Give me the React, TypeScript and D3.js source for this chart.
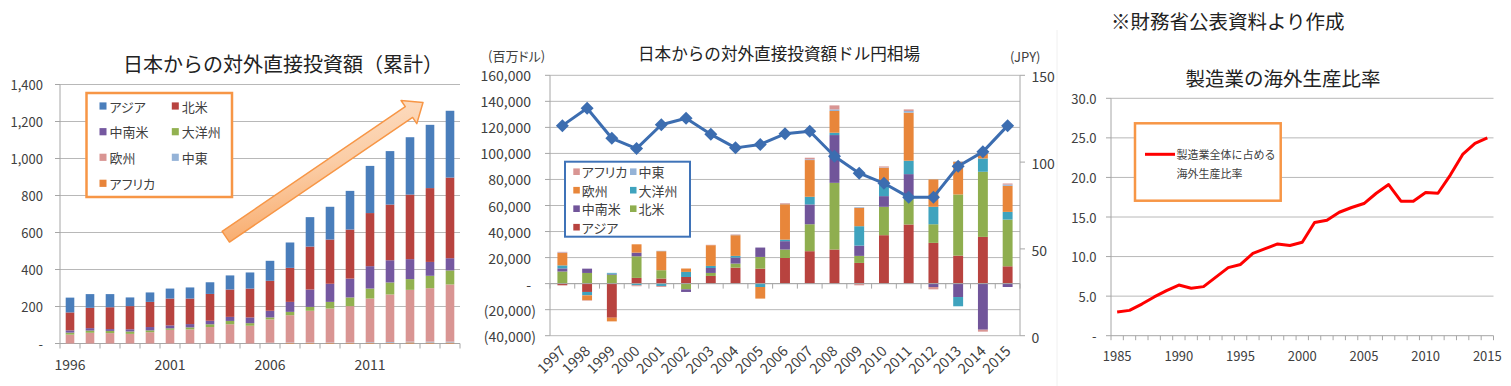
import React from 'react';
import * as d3 from 'd3';

const FONT = '"Noto Sans CJK JP", "Noto Sans", sans-serif';
const INK = '#404040';
const GRID = '#b8b8b8';
const AXIS = '#a6a6a6';

// 左: 日本からの対外直接投資額（累計）
const stockYears = ['1996', '1997', '1998', '1999', '2000', '2001', '2002', '2003', '2004', '2005',
  '2006', '2007', '2008', '2009', '2010', '2011', '2012', '2013', '2014', '2015'];
const stockAfrica = [0, 0, 0, 0, 0, 0, 0, 0, 0, 0, 1, 3, 3, 3, 3, 4, 4, 6, 5, 5];
const stockMideast = [0, 0, 0, 0, 0, 0, 0, 0, 0, 0, 3, 2, 2, 2, 2, 3, 4, 4, 5, 5];
const stockEurope = [48, 58, 56, 52, 61, 74, 76, 89, 104, 96, 126, 148, 172, 184, 197, 236, 257, 280, 289, 309];
const stockOceania = [11, 12, 12, 13, 10, 8, 11, 15, 18, 14, 11, 18, 21, 36, 47, 54, 65, 58, 67, 76];
const stockLatam = [12, 13, 10, 12, 18, 16, 18, 19, 22, 31, 36, 54, 94, 98, 102, 121, 120, 108, 75, 66];
const stockNorthAm = [97, 110, 118, 125, 136, 145, 138, 145, 148, 156, 162, 184, 232, 239, 265, 287, 301, 349, 399, 436];
const stockAsia = [80, 74, 71, 47, 51, 54, 60, 63, 76, 87, 108, 137, 159, 177, 209, 255, 289, 310, 342, 361];
const stockTicks = [0, 200, 400, 600, 800, 1000, 1200, 1400];
const stockYearLabels = ['1996', '2001', '2006', '2011'];

// 中: 日本からの対外直接投資額ドル円相場 (百万ドル / JPY)
const flowYears = ['1997', '1998', '1999', '2000', '2001', '2002', '2003', '2004', '2005', '2006',
  '2007', '2008', '2009', '2010', '2011', '2012', '2013', '2014', '2015'];
const flowAsia = [-1300, -6400, -26200, 4400, 3900, 5100, 5900, 12300, 11500, 19700, 24900, 26200, 15900, 37200, 45400, 31300, 21500, 35900, 13300];
const flowNorthAm = [9300, 8200, 6700, 16600, 6400, -4400, 2300, 3100, 9000, 6500, 20700, 51200, 5400, 21800, 20000, 14300, 47000, 50000, 35900];
const flowLatam = [2400, 3300, 500, 2800, 0, -2000, 3800, 4600, 7200, 6400, 15200, 36700, 7900, 8200, 18700, -2600, -10300, -35400, -2600];
const flowOceania = [2300, -2600, 800, -1300, -1800, 3900, 1600, 1300, -2600, 1200, 5900, 1800, 14900, 9000, 10300, 13400, -7100, 10200, 5900];
const flowEurope = [9500, -3800, -2800, 6400, 14600, 2600, 15900, 15900, -8900, 27200, 28200, 16700, 14100, 12800, 36900, 21000, 25100, 3900, 20000];
const flowMideast = [400, 0, 300, 0, 300, 0, 0, 300, 0, 300, 600, 1200, 500, 300, 1300, 0, 300, 300, 1000];
const flowAfrica = [500, -300, 0, -700, -700, 0, 300, 300, 0, 500, 1200, 3100, -1300, 700, 1200, -1800, 0, -1500, 800];
const usdJpy = [121, 131, 113.7, 107.8, 121.5, 125.3, 116, 108.2, 110.2, 116.3, 117.8, 103.4, 93.6, 87.8, 79.8, 79.8, 97.6, 105.9, 121];
const flowTicks = [-40000, -20000, 0, 20000, 40000, 60000, 80000, 100000, 120000, 140000, 160000];
const yenTicks = [0, 50, 100, 150];

// 右: 製造業の海外生産比率
const ratioYears = ['1985', '1986', '1987', '1988', '1989', '1990', '1991', '1992', '1993', '1994', '1995',
  '1996', '1997', '1998', '1999', '2000', '2001', '2002', '2003', '2004', '2005',
  '2006', '2007', '2008', '2009', '2010', '2011', '2012', '2013', '2014', '2015'];
const overseasRatio = [3.0, 3.2, 4.0, 4.9, 5.7, 6.4, 6.0, 6.2, 7.4, 8.6, 9.0, 10.4, 11.0, 11.6, 11.4, 11.8,
  14.3, 14.6, 15.6, 16.2, 16.7, 18.0, 19.1, 17.0, 17.0, 18.1, 18.0, 20.3, 22.9, 24.3, 25.0];
const ratioTicks = [0, 5, 10, 15, 20, 25, 30];
const ratioYearLabels = ['1985', '1990', '1995', '2000', '2005', '2010', '2015'];

const stockColors: Record<string, string> = {
  'アジア': '#4a7ebb', '北米': '#b8433f', '中南米': '#7558a0', '大洋州': '#92b150',
  '欧州': '#d99593', '中東': '#95b3d7', 'アフリカ': '#e8843a',
};
const flowColors: Record<string, string> = {
  'アジア': '#b8433f', '北米': '#8fae4f', '中南米': '#71559a', '大洋州': '#3fa3be',
  '欧州': '#e8863a', '中東': '#95b3d7', 'アフリカ': '#d99593',
};

const bandEdges = (x: d3.ScaleBand<string>, domain: string[]) => {
  const half = x.step() / 2;
  const c = domain.map(d => (x(d) as number) + x.bandwidth() / 2);
  return [c[0] - half, ...c.map(v => v + half)];
};

function StockChart() {
  const x = d3.scaleBand<string>().domain(stockYears).range([60, 460]).paddingInner(0.57).paddingOuter(0.285);
  const y = d3.scaleLinear().domain([0, 1400]).range([343.5, 84.5]);
  const rows = stockYears.map((yr, i) => ({
    year: yr, 'アフリカ': stockAfrica[i], '中東': stockMideast[i], '欧州': stockEurope[i],
    '大洋州': stockOceania[i], '中南米': stockLatam[i], '北米': stockNorthAm[i], 'アジア': stockAsia[i],
  }));
  const keys = ['アフリカ', '中東', '欧州', '大洋州', '中南米', '北米', 'アジア'];
  const series = d3.stack<any>().keys(keys).offset(d3.stackOffsetDiverging)(rows);
  const edges = bandEdges(x, stockYears);
  const fmt = (v: number) => (v === 0 ? '-' : d3.format(',')(v));

  // arrow geometry
  const T = [225.8, 236.7], P = [423, 102.5];
  const len = Math.hypot(P[0] - T[0], P[1] - T[1]);
  const u = [(P[0] - T[0]) / len, (P[1] - T[1]) / len];
  const n = [-u[1], u[0]];
  const hw = 6.5, hh = 14, hl = 17;
  const pt = (b: number[], a: number, k: number) => [b[0] + u[0] * a + n[0] * k, b[1] + u[1] * a + n[1] * k];
  const arrow = [pt(T, 0, hw), pt(P, -hl, hw), pt(P, -hl, hh), P, pt(P, -hl, -hh), pt(P, -hl, -hw), pt(T, 0, -hw)];

  const legend = [['アジア', '北米'], ['中南米', '大洋州'], ['欧州', '中東'], ['アフリカ']];
  const legendRows = [106, 131.7, 157.3, 183.3];
  const legendCols = [99.5, 171.8];

  return (
    <g>
      <text x={283} y={63} textAnchor="middle" dominantBaseline="central" fontSize={20} fill="#222">
        日本からの対外直接投資額（累計）
      </text>
      {stockTicks.map(t => (
        <g key={t}>
          <line x1={60} x2={460} y1={y(t)} y2={y(t)} stroke={t === 0 ? AXIS : GRID} />
          <line x1={55} x2={60} y1={y(t)} y2={y(t)} stroke={AXIS} />
          <text x={43} y={y(t)} textAnchor="end" dominantBaseline="central" fontSize={13} fill={INK}>{fmt(t)}</text>
        </g>
      ))}
      <line x1={60} x2={60} y1={y(1400)} y2={y(0)} stroke={AXIS} />
      {edges.map((e, i) => <line key={i} x1={e} x2={e} y1={y(0)} y2={y(0) + 5} stroke={AXIS} />)}
      {stockYearLabels.map(l => (
        <text key={l} x={(x(l) as number) + x.bandwidth() / 2} y={364} textAnchor="middle" dominantBaseline="central" fontSize={14} fill={INK}>{l}</text>
      ))}
      {series.map(s => (
        <g key={s.key} fill={stockColors[s.key]}>
          {s.map((d, i) => (
            <rect key={i} x={x(stockYears[i])} width={x.bandwidth()} y={y(Math.max(d[0], d[1]))} height={Math.abs(y(d[0]) - y(d[1]))} />
          ))}
        </g>
      ))}
      <defs>
        <linearGradient id="arrowFill" x1="0" y1="0" x2="0.3" y2="1">
          <stop offset="0" stopColor="#fde6d2" />
          <stop offset="0.55" stopColor="#fbcda6" />
          <stop offset="1" stopColor="#f8a866" />
        </linearGradient>
      </defs>
      <path d={d3.line()(arrow as [number, number][]) + 'Z'} fill="url(#arrowFill)" stroke="#f79646" strokeWidth={1.5} strokeLinejoin="round" />
      <rect x={86.5} y={93} width={145.5} height={104} fill="#fff" stroke="#f79646" strokeWidth={2.5} />
      {legend.map((row, r) => row.map((k, c) => (
        <g key={k}>
          <rect x={legendCols[c]} y={legendRows[r] - 3.6} width={7} height={7.2} fill={stockColors[k]} />
          <text x={legendCols[c] + 10} y={legendRows[r]} dominantBaseline="central" fontSize={13} fill={INK} style={{ fontFeatureSettings: '"palt"' }}>{k}</text>
        </g>
      )))}
    </g>
  );
}

function FlowChart() {
  const x = d3.scaleBand<string>().domain(flowYears).range([550, 1020]).paddingInner(0.6).paddingOuter(0.3);
  const y = d3.scaleLinear().domain([-40000, 160000]).range([335.7, 75.3]);
  const y2 = d3.scaleLinear().domain([0, 150]).range([335.7, 75.3]);
  const rows = flowYears.map((yr, i) => ({
    year: yr, 'アジア': flowAsia[i], '北米': flowNorthAm[i], '中南米': flowLatam[i], '大洋州': flowOceania[i],
    '欧州': flowEurope[i], '中東': flowMideast[i], 'アフリカ': flowAfrica[i],
  }));
  const keys = ['アジア', '北米', '中南米', '大洋州', '欧州', '中東', 'アフリカ'];
  const series = d3.stack<any>().keys(keys).offset(d3.stackOffsetDiverging)(rows);
  const edges = bandEdges(x, flowYears);
  const cx = (d: string) => (x(d) as number) + x.bandwidth() / 2;
  const num = d3.format(',');
  const fmt = (v: number) => (v === 0 ? '-' : v < 0 ? `(${num(-v)})` : num(v));
  const line = d3.line<number>().x((_, i) => cx(flowYears[i])).y(v => y2(v));
  const r = 6.5;
  const diamond = `M0,${-r}L${r},0L0,${r}L${-r},0Z`;

  const legend = [['アフリカ', '中東'], ['欧州', '大洋州'], ['中南米', '北米'], ['アジア']];
  const legendRows = [171.7, 190.2, 208.7, 227.2];
  const legendCols = [573.3, 630];

  return (
    <g>
      <text x={779} y={53} textAnchor="middle" dominantBaseline="central" fontSize={16.6} fill="#222">
        日本からの対外直接投資額ドル円相場
      </text>
      <text x={488} y={55} dominantBaseline="central" fontSize={13} fill={INK} style={{ fontFeatureSettings: '"palt"' }}>(百万ドル)</text>
      <text x={1010} y={56} dominantBaseline="central" fontSize={13} fill={INK}>(JPY)</text>
      {flowTicks.map(t => (
        <g key={t}>
          <line x1={550} x2={1020} y1={y(t)} y2={y(t)} stroke={GRID} />
          <line x1={545} x2={550} y1={y(t)} y2={y(t)} stroke={AXIS} />
          <text x={t < 0 ? 536 : 531} y={y(t)} textAnchor="end" dominantBaseline="central" fontSize={14} fill={INK}>{fmt(t)}</text>
        </g>
      ))}
      <line x1={550} x2={550} y1={y(160000)} y2={y(-40000)} stroke={AXIS} />
      <line x1={1020} x2={1020} y1={y2(150)} y2={y2(0)} stroke={AXIS} />
      {yenTicks.map(t => (
        <g key={t}>
          <line x1={1020} x2={1025} y1={y2(t)} y2={y2(t)} stroke={AXIS} />
          <text x={1031.5} y={y2(t) + 1} dominantBaseline="central" fontSize={14} fill={INK}>{t}</text>
        </g>
      ))}
      {series.map(s => (
        <g key={s.key} fill={flowColors[s.key]}>
          {s.map((d, i) => (
            <rect key={i} x={x(flowYears[i])} width={x.bandwidth()} y={y(Math.max(d[0], d[1]))} height={Math.abs(y(d[0]) - y(d[1]))} />
          ))}
        </g>
      ))}
      <line x1={550} x2={1020} y1={y(0)} y2={y(0)} stroke={AXIS} />
      {edges.map((e, i) => <line key={i} x1={e} x2={e} y1={y(0)} y2={y(0) + 5} stroke={AXIS} />)}
      {flowYears.map(d => (
        <text key={d} transform={`translate(${cx(d) + 4},${352}) rotate(-45)`} textAnchor="end" fontSize={14.5} fill={INK}>{d}</text>
      ))}
      <path d={line(usdJpy) || ''} fill="none" stroke="#3c6db0" strokeWidth={3} strokeLinejoin="round" />
      {usdJpy.map((v, i) => (
        <path key={i} d={diamond} transform={`translate(${cx(flowYears[i])},${y2(v)})`} fill="#3c6db0" />
      ))}
      <rect x={565} y={161.7} width={125} height={75} fill="#fff" stroke="#3f73b8" strokeWidth={2} />
      {legend.map((row, ri) => row.map((k, c) => (
        <g key={k}>
          <rect x={legendCols[c]} y={legendRows[ri] - 3.3} width={6.5} height={6.6} fill={flowColors[k]} />
          <text x={legendCols[c] + 8.5} y={legendRows[ri]} dominantBaseline="central" fontSize={13} fill={INK} style={{ fontFeatureSettings: '"palt"' }}>{k}</text>
        </g>
      )))}
    </g>
  );
}

function RatioChart() {
  const x = d3.scalePoint<string>().domain(ratioYears).range([1111, 1493.5]).padding(0.5);
  const y = d3.scaleLinear().domain([0, 30]).range([335.7, 98.3]);
  const step = x.step();
  const edges = [...ratioYears.map(d => (x(d) as number) - step / 2), (x('2015') as number) + step / 2];
  const fmt = (v: number) => (v === 0 ? '-' : d3.format('.1f')(v));
  const line = d3.line<number>().x((_, i) => x(ratioYears[i]) as number).y(v => y(v));

  return (
    <g>
      <line x1={1057} x2={1057} y1={30} y2={386} stroke="#f0f0f0" />
      <text x={1111} y={20} dominantBaseline="central" fontSize={19.5} fill="#222">※財務省公表資料より作成</text>
      <text x={1283} y={77} textAnchor="middle" dominantBaseline="central" fontSize={19.5} fill="#222">製造業の海外生産比率</text>
      {ratioTicks.map(t => (
        <g key={t}>
          <line x1={1111} x2={1493.5} y1={y(t)} y2={y(t)} stroke={t === 0 ? AXIS : GRID} />
          <line x1={1106} x2={1111} y1={y(t)} y2={y(t)} stroke={AXIS} />
          <text x={1096.5} y={y(t)} textAnchor="end" dominantBaseline="central" fontSize={13} fill={INK}>{fmt(t)}</text>
        </g>
      ))}
      <line x1={1111} x2={1111} y1={y(30)} y2={y(0)} stroke={AXIS} />
      {edges.map((e, i) => <line key={i} x1={e} x2={e} y1={y(0)} y2={y(0) + 4.5} stroke={AXIS} />)}
      {ratioYearLabels.map(l => (
        <text key={l} x={x(l)} y={355} textAnchor="middle" dominantBaseline="central" fontSize={13} fill={INK}>{l}</text>
      ))}
      <path d={line(overseasRatio) || ''} fill="none" stroke="#ff0000" strokeWidth={3} strokeLinejoin="round" />
      <rect x={1135} y={123.3} width={145.7} height={77.4} fill="#fff" stroke="#f79646" strokeWidth={2.5} />
      <line x1={1145} x2={1175} y1={154.3} y2={154.3} stroke="#ff0000" strokeWidth={3} />
      <text x={1176.5} y={154.3} dominantBaseline="central" fontSize={11} fill={INK}>製造業全体に占める</text>
      <text x={1176.5} y={173.3} dominantBaseline="central" fontSize={11} fill={INK}>海外生産比率</text>
    </g>
  );
}

export default function App() {
  return (
    <div style={{ position: 'absolute', left: 0, top: 0, background: '#fff' }}>
      <svg width={1511} height={386} style={{ display: 'block', fontFamily: FONT }}>
        <rect width={1511} height={386} fill="#fff" />
        <StockChart />
        <FlowChart />
        <RatioChart />
      </svg>
    </div>
  );
}
